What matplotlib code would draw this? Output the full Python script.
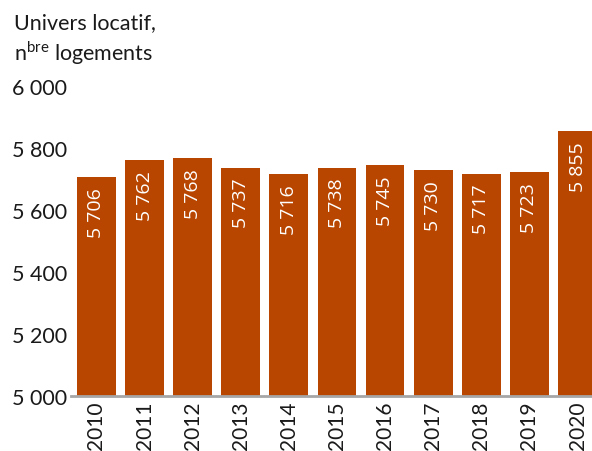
import matplotlib.pyplot as plt
import matplotlib as mpl
import numpy as np

years = ["2010", "2011", "2012", "2013", "2014", "2015", "2016", "2017", "2018", "2019", "2020"]
values = [5706, 5762, 5768, 5737, 5716, 5738, 5745, 5730, 5717, 5723, 5855]
y_ticks = [5000, 5200, 5400, 5600, 5800, 6000]


def fmt(v):
    return f"{v:,}".replace(",", " ")


mpl.rcParams['font.family'] = ['Lato', 'DejaVu Sans']
mpl.rcParams['mathtext.fontset'] = 'custom'
mpl.rcParams['mathtext.rm'] = 'Lato'

bar_color = "#B84600"
text_color = "#1a1a1a"

fig = plt.figure(figsize=(5.92, 4.52), dpi=100)
# axes box in pixels: left 71, right 592, top 87.5, bottom 397
ax = fig.add_axes([71 / 592, 1 - 397 / 452, (592 - 71) / 592, (397 - 87.5) / 452])

x = np.arange(len(years))
ax.bar(x, values, width=0.806, color=bar_color)

for xi, v in zip(x, values):
    ax.annotate(fmt(v), (xi, v), xytext=(0, -7), textcoords="offset points",
                rotation=90, ha="center", va="top", color="white",
                fontsize=14, family=['Open Sans', 'DejaVu Sans'])

ax.set_ylim(5000, 6000)
ax.set_xlim(-0.528, 10.30)
ax.set_yticks(y_ticks)
ax.set_yticklabels([fmt(t) for t in y_ticks], fontsize=15.5, color=text_color)
ax.set_xticks(x)
ax.set_xticklabels(years, rotation=90, fontsize=15, color=text_color)
ax.tick_params(axis="y", length=0, pad=3)
ax.tick_params(axis="x", length=0, pad=3)

for s in ["top", "right", "left"]:
    ax.spines[s].set_visible(False)
ax.spines["bottom"].set_color("#A6A6A6")
ax.spines["bottom"].set_linewidth(2)

fig.text(14 / 592, 1 - 13 / 452, "Univers locatif,", fontsize=15.5, va="top", ha="left", color=text_color)
fig.text(14 / 592, 1 - 39 / 452, r"n$^{\mathrm{bre}}$ logements", fontsize=15.5, va="top", ha="left", color=text_color)

fig.savefig("out.png", dpi=100)
